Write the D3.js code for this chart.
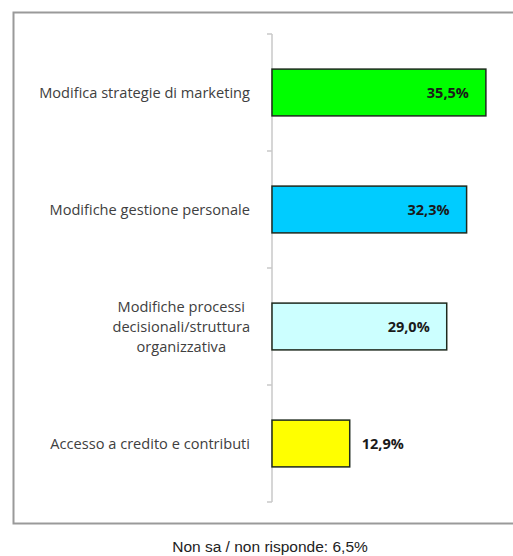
<!DOCTYPE html>
<html>
<head>
<meta charset="utf-8">
<script src="https://cdn.jsdelivr.net/npm/d3@7"></script>
<style>
  body { margin: 0; background: #fff; }
  svg { display: block; }
</style>
</head>
<body>
<script>
// chart values
var categories = [
  ["Modifica strategie di marketing"],
  ["Modifiche gestione personale"],
  ["Modifiche processi", "decisionali/struttura", "organizzativa"],
  ["Accesso a credito e contributi"]
];
var values = [35.5, 32.3, 29.0, 12.9];
var valueLabels = ["35,5%", "32,3%", "29,0%", "12,9%"];
var barColors = ["#00ff00", "#00ccff", "#ccffff", "#ffff00"];
var footnote = "Non sa / non risponde: 6,5%";

var W = 513, H = 556;
var margin = {top: 34, right: 0, bottom: 54, left: 272},
    width = W - margin.left - margin.right,
    height = H - margin.top - margin.bottom;

var svg = d3.select("body").append("svg")
    .attr("width", W)
    .attr("height", H);

// outer frame (right edge falls outside the picture)
svg.append("rect")
    .attr("x", 13.5)
    .attr("y", 12.5)
    .attr("width", 520)
    .attr("height", 511)
    .style("fill", "none")
    .style("stroke", "#9a9a9a")
    .style("stroke-width", 2);

var g = svg.append("g")
    .attr("transform", "translate(" + margin.left + "," + margin.top + ")");

var idx = d3.range(values.length);

var x = d3.scaleLinear()
    .range([0, width])
    .domain([0, 40]);

var y = d3.scaleBand()
    .range([0, height])
    .domain(idx)
    .paddingInner(0.6)
    .paddingOuter(0.3);

// category axis with ticks on band edges
var edges = d3.range(values.length + 1).map(function(i) { return i * height / values.length; });
g.append("line")
    .attr("x1", 0).attr("x2", 0)
    .attr("y1", 0).attr("y2", height)
    .style("stroke", "#c8c8c8")
    .style("stroke-width", 1.5);
g.selectAll(".tick")
    .data(edges)
  .enter().append("line")
    .attr("class", "tick")
    .attr("x1", -5).attr("x2", 0)
    .attr("y1", function(d) { return d; })
    .attr("y2", function(d) { return d; })
    .style("stroke", "#c8c8c8")
    .style("stroke-width", 1.5);

// category labels: block right-aligned at the axis, lines centred inside it
var labelRight = -22;
var labels = g.selectAll(".cat")
    .data(idx)
  .enter().append("text")
    .attr("class", "cat")
    .attr("text-anchor", "middle")
    .style("font-family", "'Open Sans', sans-serif")
    .style("font-size", "14.6px")
    .style("fill", "#404040");

labels.each(function(i) {
  var lines = categories[i];
  var el = d3.select(this);
  var cy = y(i) + y.bandwidth() / 2;
  var lh = 20;
  var spans = lines.map(function(t, k) {
    return el.append("tspan")
      .attr("y", cy + (k - (lines.length - 1) / 2) * lh)
      .attr("dy", "0.35em")
      .text(t);
  });
  var maxW = d3.max(spans, function(s) { return s.node().getComputedTextLength(); });
  spans.forEach(function(s) { s.attr("x", labelRight - maxW / 2); });
});

// bars
g.selectAll(".bar")
    .data(idx)
  .enter().append("rect")
    .attr("class", "bar")
    .attr("x", x(0))
    .attr("y", function(i) { return y(i); })
    .attr("width", function(i) { return x(values[i]) - x(0); })
    .attr("height", y.bandwidth())
    .style("fill", function(i) { return barColors[i]; })
    .style("stroke", "#1e2a1e")
    .style("stroke-width", 1.5);

// value labels: inside end for long bars, outside for the short one
g.selectAll(".val")
    .data(idx)
  .enter().append("text")
    .attr("class", "val")
    .attr("x", function(i) { return values[i] > 20 ? x(values[i]) - 17 : x(values[i]) + 12; })
    .attr("y", function(i) { return y(i) + y.bandwidth() / 2; })
    .attr("dy", "0.35em")
    .attr("text-anchor", function(i) { return values[i] > 20 ? "end" : "start"; })
    .style("font-family", "'Open Sans', sans-serif")
    .style("font-weight", "bold")
    .style("font-size", "14.5px")
    .style("fill", "#1a1a1a")
    .text(function(i) { return valueLabels[i]; });

// footnote
svg.append("text")
    .attr("x", 270)
    .attr("y", 552)
    .attr("text-anchor", "middle")
    .style("font-family", "'Liberation Sans', Arial, sans-serif")
    .style("font-size", "15.5px")
    .style("fill", "#222")
    .text(footnote);
</script>
</body>
</html>
